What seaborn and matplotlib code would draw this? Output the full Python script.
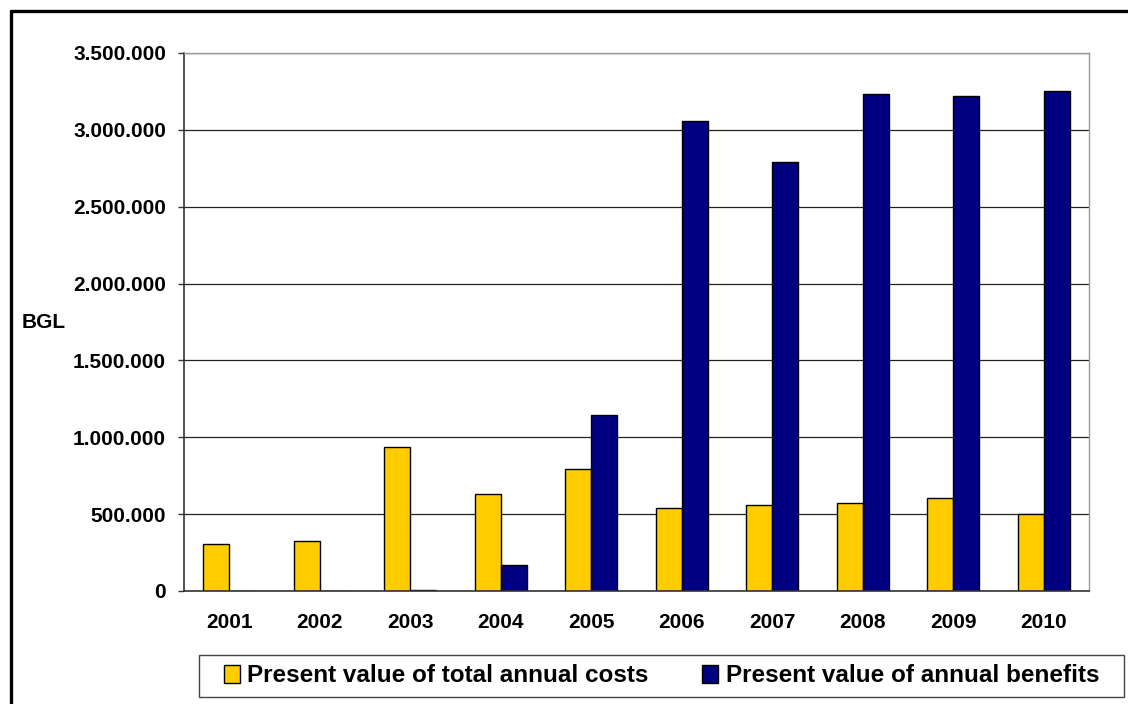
import pandas as pd
import seaborn as sns
from matplotlib import pyplot as plt
from matplotlib.lines import Line2D
from matplotlib.patches import Rectangle
from matplotlib.ticker import FuncFormatter, FixedLocator

years = ["2001", "2002", "2003", "2004", "2005", "2006", "2007", "2008", "2009", "2010"]
costs = [309000, 324000, 939000, 630000, 791000, 539000, 561000, 574000, 606000, 500000]
benefits = [0, 0, 9000, 167000, 1145000, 3058000, 2791000, 3235000, 3222000, 3252000]
series_names = ["Present value of total annual costs", "Present value of annual benefits"]
series_colors = ["#FFCC00", "#000080"]
y_ticks = [0, 500000, 1000000, 1500000, 2000000, 2500000, 3000000, 3500000]


def plot_bars():
    sns.set_theme(style="white")
    plt.rcParams["font.family"] = ["Liberation Sans", "DejaVu Sans"]
    plt.rcParams["font.weight"] = "bold"
    plt.rcParams["text.color"] = "black"
    plt.rcParams["xtick.color"] = "black"
    plt.rcParams["ytick.color"] = "black"

    df = pd.DataFrame({
        "year": years * 2,
        "value": costs + benefits,
        "series": [series_names[0]] * len(years) + [series_names[1]] * len(years),
    })

    fig = plt.figure(figsize=(11.28, 7.04), dpi=100)
    ax = fig.add_axes([184 / 1128, 113 / 704, 905 / 1128, 538 / 704])

    sns.barplot(data=df, x="year", y="value", hue="series", order=years,
                hue_order=series_names, palette=series_colors, width=0.575,
                edgecolor="black", linewidth=1, saturation=1, ax=ax)

    handles, labels = ax.get_legend_handles_labels()
    ax.get_legend().remove()

    ax.set_xlim(-0.5, len(years) - 0.5)
    ax.set_ylim(0, 3500000)
    ax.yaxis.set_major_locator(FixedLocator(y_ticks))
    ax.yaxis.set_major_formatter(FuncFormatter(lambda v, p: f"{int(v):,}".replace(",", ".")))
    ax.grid(axis="y", color="#222222", linewidth=0.9)
    ax.set_axisbelow(True)
    ax.set_xlabel("")
    ax.set_ylabel("")

    # category separators as tick marks below the axis
    ax.set_xticks([i - 0.5 for i in range(len(years) + 1)], minor=True)
    ax.tick_params(axis="x", which="major", length=0, pad=16, labelsize=15)
    ax.tick_params(axis="x", which="minor", length=4.5, width=1, color="#333333", direction="out")
    ax.tick_params(axis="y", length=4.5, width=1, color="#333333", direction="out",
                   left=True, labelsize=15, pad=8.5)
    for lab in ax.get_xticklabels() + ax.get_yticklabels():
        lab.set_fontweight("bold")
        lab.set_color("black")

    for side in ["left", "bottom"]:
        ax.spines[side].set_color("#333333")
        ax.spines[side].set_linewidth(1.2)
    for side in ["top", "right"]:
        ax.spines[side].set_color("#999999")
        ax.spines[side].set_linewidth(1)

    fig.text(22 / 1128, 1 - 322 / 704, "BGL", ha="left", va="center",
             fontsize=15, fontweight="bold", color="black")

    leg = fig.legend(handles, labels, loc="center", bbox_to_anchor=(661.5 / 1128, 1 - 676 / 704),
                     ncol=2, fontsize=17.5, frameon=False,
                     handlelength=0.66, handleheight=0.7, handletextpad=0.3,
                     columnspacing=2.2, borderpad=0.3, borderaxespad=0)
    for t in leg.get_texts():
        t.set_fontweight("bold")
        t.set_color("black")
    fig.add_artist(Rectangle((199 / 1128, 7 / 704), 925 / 1128, 42 / 704, fill=False,
                             edgecolor="#444444", linewidth=1, transform=fig.transFigure))

    # outer frame (top and left visible, rest beyond the picture)
    fig.add_artist(Line2D([11 / 1128, 11 / 1128], [0, 1 - 11 / 704], color="black", linewidth=2.4))
    fig.add_artist(Line2D([11 / 1128, 1], [1 - 11 / 704, 1 - 11 / 704], color="black", linewidth=2.4))

    fig.savefig("out.png", dpi=100, facecolor="white")


if __name__ == "__main__":
    plot_bars()
